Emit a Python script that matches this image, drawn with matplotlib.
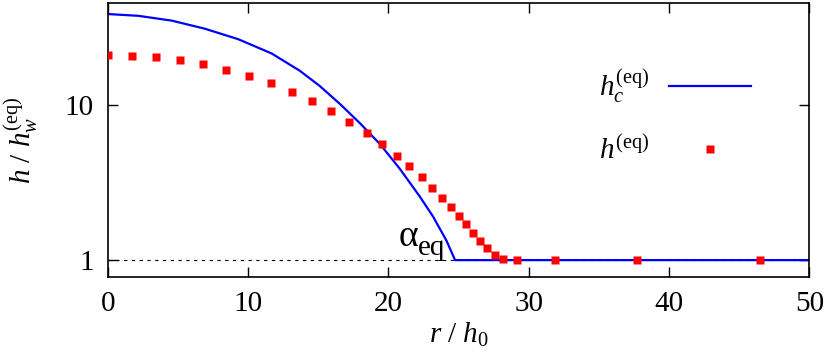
"""Equilibrium droplet profile: h_c(eq) cap vs. simulated h(eq) on a log axis."""

import numpy as np
import matplotlib
matplotlib.use("Agg")
import matplotlib.pyplot as plt

serif = "Liberation Serif"
plt.rcParams["font.family"] = "serif"
plt.rcParams["font.serif"] = [serif, "DejaVu Serif"]
plt.rcParams["mathtext.fontset"] = "custom"
plt.rcParams["mathtext.rm"] = serif
plt.rcParams["mathtext.it"] = serif + ":italic"

# h_c(eq)
r_cap = [0.0, 2.16, 4.54, 6.91, 9.29, 11.67, 13.68, 15.11, 16.54, 17.96,
         19.39, 20.81, 22.24, 23.19, 24.14, 24.75, 50.0]
h_cap = [38.8, 37.8, 35.2, 31.2, 26.7, 21.6, 16.7, 13.3, 10.2, 7.67,
         5.62, 3.89, 2.57, 1.905, 1.334, 1.0, 1.0]

# h(eq): simulation points
r_sim = [0.0, 1.71, 3.40, 5.11, 6.77, 8.43, 10.03, 11.6, 13.11, 14.54,
         15.92, 17.2, 18.44, 19.55, 20.58, 21.5, 22.36, 23.11, 23.81, 24.43,
         25.0, 25.54, 26.04, 26.51, 27.06, 27.6, 28.2, 29.2, 31.86, 37.7, 46.5]
h_sim = [21.1, 20.9, 20.4, 19.6, 18.5, 17.0, 15.5, 13.9, 12.2, 10.6,
         9.15, 7.77, 6.59, 5.60, 4.72, 4.03, 3.44, 2.93, 2.53, 2.20,
         1.93, 1.70, 1.50, 1.33, 1.19, 1.077, 1.02, 1.0, 1.0, 1.0, 1.0]

xticks = [0, 10, 20, 30, 40, 50]
yticks = [1, 10]

fig = plt.figure(figsize=(8.3, 3.54), dpi=100)
ax = fig.add_axes([0.130, 0.218, 0.845, 0.773])

ax.axhline(1.0, color="black", lw=0.8, ls=(0, (3, 4)), zorder=1)
ax.plot(r_cap, h_cap, color="#0000ff", lw=1.6, zorder=2,
        label=r"$h_c^{(\mathrm{eq})}$")
ax.plot(r_sim, h_sim, ls="none", marker="s", ms=5.5, color="#ff0000",
        mec="none", zorder=3, label=r"$h^{(\mathrm{eq})}$")

ax.set_yscale("log")
ax.set_xlim(0, 50)
ax.set_ylim(0.78, 45.6)
ax.set_xticks(xticks)
ax.set_yticks(yticks)
ax.set_yticklabels([str(t) for t in yticks])
ax.yaxis.set_minor_locator(matplotlib.ticker.NullLocator())
ax.tick_params(direction="in", length=7, width=1, top=True, right=True,
               labelsize=21, pad=10)
for s in ax.spines.values():
    s.set_linewidth(1.2)

ax.set_xlabel(r"$r$ / $h_0$", fontsize=21, labelpad=3)
ax.set_ylabel(r"$h$ / $h_w^{(\mathrm{eq})}$", fontsize=21)
ax.yaxis.set_label_coords(-0.097, 0.5)

# contact angle label: alpha with a lowered "eq"
ax.text(22.1, 1.42, "α", fontsize=27, ha="right", va="center")
ax.text(22.1, 1.2, "eq", fontsize=21, ha="left", va="center")

ax.legend(loc="upper right", bbox_to_anchor=(0.905, 0.808),
          bbox_transform=fig.transFigure, frameon=False, markerfirst=False,
          fontsize=21, handlelength=2.8, handletextpad=0.7,
          labelspacing=1.07, borderpad=0, borderaxespad=0)

fig.savefig("out.png", dpi=100)
